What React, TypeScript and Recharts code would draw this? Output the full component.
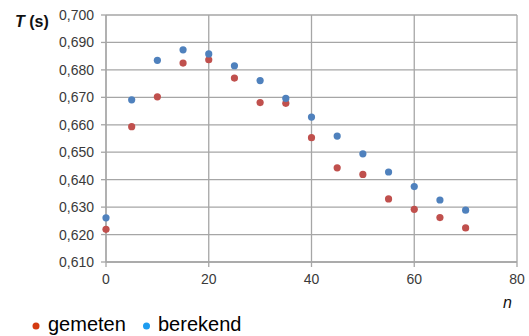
import React from "react";
import {
  ScatterChart,
  Scatter,
  XAxis,
  YAxis,
  CartesianGrid,
} from "recharts";

const nValues = [0, 5, 10, 15, 20, 25, 30, 35, 40, 45, 50, 55, 60, 65, 70];
const gemeten = [
  0.6219, 0.6593, 0.6702, 0.6825, 0.6837, 0.677, 0.6681, 0.6678, 0.6553,
  0.6443, 0.6419, 0.633, 0.6292, 0.6262, 0.6224,
];
const berekend = [
  0.6261, 0.6691, 0.6835, 0.6873, 0.6858, 0.6815, 0.6761, 0.6696, 0.6628,
  0.6559, 0.6494, 0.6428, 0.6375, 0.6326, 0.6289,
];
const xTicks = [0, 20, 40, 60, 80];
const yTicks = [0.61, 0.62, 0.63, 0.64, 0.65, 0.66, 0.67, 0.68, 0.69, 0.7];

const gemetenData = nValues.map((n, i) => ({ n, t: gemeten[i] }));
const berekendData = nValues.map((n, i) => ({ n, t: berekend[i] }));

const FONT = "'Liberation Sans', Arial, sans-serif";
const GRID = "#a6a6a6";

const dot = (color: string) => (props: any) =>
  <circle cx={props.cx} cy={props.cy} r={3.6} fill={color} />;

export default function App() {
  return (
    <div style={{ position: "absolute", left: 0, top: 0, width: 529, height: 336 }}>
      <ScatterChart
        width={529}
        height={336}
        margin={{ top: 15, right: 12, bottom: 44, left: 0 }}
      >
        <CartesianGrid stroke={GRID} strokeWidth={1.3} />
        <XAxis
          type="number"
          dataKey="n"
          domain={[0, 80]}
          ticks={xTicks}
          height={30}
          tickSize={5}
          tickMargin={7}
          stroke={GRID}
          strokeWidth={1.3}
          tick={{ fill: "#3a3a3a", fontSize: 14, fontFamily: FONT }}
        />
        <YAxis
          type="number"
          dataKey="t"
          domain={[0.61, 0.7]}
          ticks={yTicks}
          width={106}
          tickSize={5}
          tickMargin={7}
          stroke={GRID}
          strokeWidth={1.3}
          tickFormatter={(v: number) => v.toFixed(3).replace(".", ",")}
          tick={{ fill: "#3a3a3a", fontSize: 14, fontFamily: FONT }}
        />
        <Scatter
          name="gemeten"
          data={gemetenData}
          fill="#c0504d"
          shape={dot("#c0504d")}
          isAnimationActive={false}
        />
        <Scatter
          name="berekend"
          data={berekendData}
          fill="#4f81bd"
          shape={dot("#4f81bd")}
          isAnimationActive={false}
        />
      </ScatterChart>
      <svg
        width={529}
        height={336}
        style={{ position: "absolute", left: 0, top: 0, pointerEvents: "none" }}
      >
        <text x={15} y={27} fontFamily={FONT} fontSize={16} fontWeight="bold" fill="#111">
          <tspan fontStyle="italic">T</tspan>
          <tspan> (s)</tspan>
        </text>
        <text x={503} y={308} fontFamily={FONT} fontSize={16} fontStyle="italic" fill="#111">
          n
        </text>
        <circle cx={36} cy={326} r={3.5} fill="#d43a10" />
        <text x={48} y={331} fontFamily={FONT} fontSize={20} fill="#000">
          gemeten
        </text>
        <circle cx={146.5} cy={326} r={3.5} fill="#1e9cf0" />
        <text x={158} y={331} fontFamily={FONT} fontSize={20} fill="#000">
          berekend
        </text>
      </svg>
    </div>
  );
}
